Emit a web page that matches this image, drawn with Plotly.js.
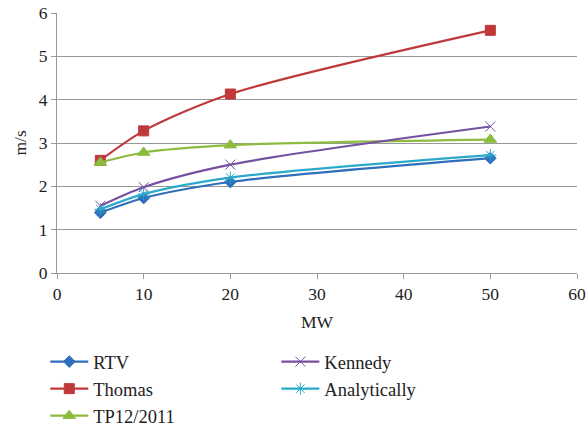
<!DOCTYPE html>
<html><head><meta charset="utf-8">
<script src="https://cdn.plot.ly/plotly-3.0.1.min.js"></script>
<style>html,body{margin:0;padding:0;background:#fff}#c{width:588px;height:431px}</style>
</head><body><div id="c"></div>
<script>
const mw = [5, 10, 20, 50];
const rtv = [1.39, 1.73, 2.1, 2.65];
const thomas = [2.6, 3.28, 4.13, 5.6];
const tp12 = [2.55, 2.78, 2.95, 3.08];
const kennedy = [1.55, 1.98, 2.5, 3.38];
const analytically = [1.47, 1.82, 2.2, 2.72];
const xTicks = [0, 10, 20, 30, 40, 50, 60];
const yTicks = [0, 1, 2, 3, 4, 5, 6];

function tr(name, y, color, symbol, size, legend) {
  return {x: mw, y: y, name: name, type: 'scatter', mode: 'lines+markers',
    line: {color: color, width: 2.2, shape: 'spline', smoothing: 0.8},
    marker: {symbol: symbol, size: size, color: color, line: {color: color, width: 1}},
    legend: legend};
}
const data = [
  tr('RTV', rtv, '#2F6EBA', 'diamond', 9, 'legend'),
  tr('Thomas', thomas, '#C0393A', 'square', 10, 'legend'),
  tr('TP12/2011', tp12, '#8DBB3F', 'triangle-up', 11, 'legend'),
  tr('Kennedy', kennedy, '#7550A0', 'x-thin-open', 10, 'legend2'),
  tr('Analytically', analytically, '#2BA9CB', 'asterisk-open', 10, 'legend2')
];
const f = {family: "Liberation Serif", size: 17.5, color: '#222'};
const lf = {family: "Liberation Serif", size: 18.5, color: '#222'};
const legBase = {font: lf, bgcolor: 'rgba(0,0,0,0)', tracegroupgap: 0, itemwidth: 38,
  xanchor: 'left', yanchor: 'top', traceorder: 'normal', xref: 'container', yref: 'container'};
const layout = {
  width: 588, height: 431,
  margin: {l: 57, r: 11, t: 13, b: 158, autoexpand: false},
  paper_bgcolor: '#fff', plot_bgcolor: '#fff',
  font: f,
  showlegend: true,
  xaxis: {range: [0, 60], tickvals: xTicks, ticktext: xTicks.map(String),
    showgrid: false, zeroline: false, showline: true, linecolor: '#999', linewidth: 1,
    ticks: 'outside', ticklen: 5, tickcolor: '#999', tickfont: f, automargin: false},
  yaxis: {range: [0, 6], tickvals: yTicks, ticktext: yTicks.map(String),
    showgrid: true, gridcolor: '#999', gridwidth: 1, zeroline: false,
    showline: true, linecolor: '#999', linewidth: 1, automargin: false,
    ticks: 'outside', ticklen: 5, tickcolor: '#999', tickfont: f},
  annotations: [
    {text: 'm/s', xref: 'paper', yref: 'paper', x: -0.072, y: 0.5, xanchor: 'center', yanchor: 'middle',
     textangle: -90, showarrow: false, font: f},
    {text: 'MW', xref: 'paper', yref: 'paper', x: 0.5, y: -0.187, xanchor: 'center', yanchor: 'middle',
     showarrow: false, font: f}
  ],
  legend: Object.assign({}, legBase, {x: 0.077, y: 0.204}),
  legend2: Object.assign({}, legBase, {x: 0.47, y: 0.204})
};
Plotly.newPlot('c', data, layout, {displayModeBar: false, staticPlot: true});
</script></body></html>
